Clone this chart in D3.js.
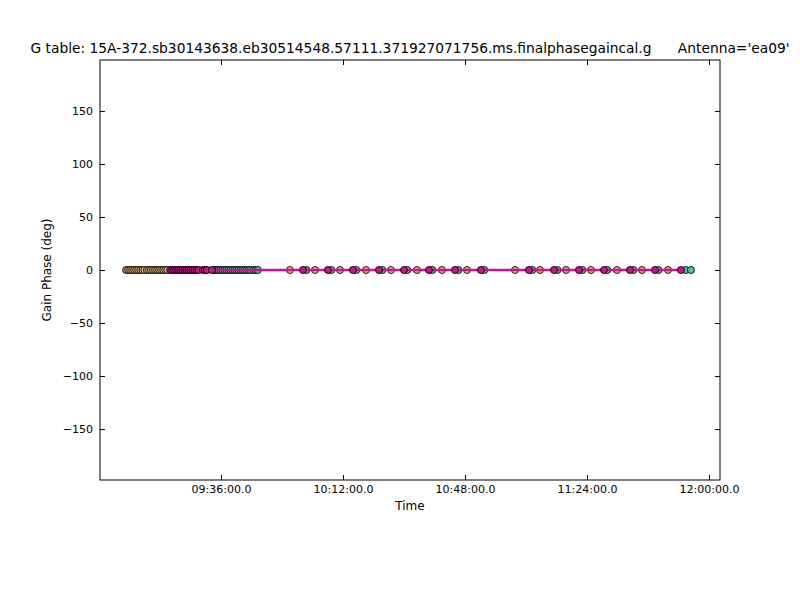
<!DOCTYPE html>
<html>
<head>
<meta charset="utf-8">
<script src="https://cdn.jsdelivr.net/npm/d3@7"></script>
<style>
  body { margin: 0; background: #fff; }
  text { font-family: "DejaVu Sans", sans-serif; }
</style>
</head>
<body>
<div id="chart"></div>
<script>
// Gain phase per time, antenna ea09 (all solutions sit at 0 deg)
var tanPoints = [
  ["09:08:00", 0], ["09:08:36", 0], ["09:09:12", 0], ["09:09:48", 0], ["09:10:24", 0],
  ["09:11:00", 0], ["09:11:36", 0], ["09:12:12", 0], ["09:12:48", 0], ["09:13:24", 0],
  ["09:14:10", 0], ["09:14:46", 0], ["09:15:22", 0], ["09:15:58", 0], ["09:16:34", 0],
  ["09:17:10", 0], ["09:17:46", 0], ["09:18:22", 0], ["09:18:58", 0], ["09:19:34", 0],
  ["09:20:10", 0],
  ["09:56:20", 0], ["10:03:44", 0], ["10:11:07", 0], ["10:18:47", 0], ["10:26:10", 0],
  ["10:33:50", 0], ["10:41:13", 0], ["10:48:35", 0], ["11:02:45", 0], ["11:10:08", 0],
  ["11:17:48", 0], ["11:25:11", 0], ["11:32:51", 0], ["11:40:14", 0], ["11:47:54", 0]
];

var magentaPoints = [
  ["09:21:00", 0], ["09:21:36", 0], ["09:22:12", 0], ["09:22:48", 0], ["09:23:24", 0],
  ["09:24:00", 0], ["09:24:36", 0], ["09:25:12", 0], ["09:25:48", 0], ["09:26:24", 0],
  ["09:27:00", 0], ["09:27:36", 0], ["09:28:12", 0], ["09:28:48", 0], ["09:29:24", 0],
  ["09:30:40", 0], ["09:31:16", 0], ["09:31:52", 0]
];

var tealPoints = [
  ["09:34:00", 0], ["09:34:36", 0], ["09:35:12", 0], ["09:35:48", 0], ["09:36:24", 0],
  ["09:37:00", 0], ["09:37:36", 0], ["09:38:12", 0], ["09:38:48", 0], ["09:39:24", 0],
  ["09:40:00", 0], ["09:40:36", 0], ["09:41:12", 0], ["09:41:48", 0], ["09:42:24", 0],
  ["09:43:00", 0], ["09:43:36", 0], ["09:44:12", 0], ["09:44:48", 0], ["09:45:40", 0],
  ["09:46:16", 0], ["09:46:52", 0],
  ["10:01:12", 0], ["10:08:34", 0], ["10:15:57", 0], ["10:23:37", 0], ["10:31:00", 0],
  ["10:38:22", 0], ["10:46:03", 0], ["10:53:43", 0], ["11:07:53", 0], ["11:15:16", 0],
  ["11:22:38", 0], ["11:30:01", 0], ["11:37:41", 0], ["11:45:04", 0], ["11:53:12", 0],
  ["11:54:40", 0]
];

// calibrator solutions joined by a line
var calPoints = [
  ["09:33:20", 0], ["10:00:12", 0], ["10:07:34", 0], ["10:14:57", 0], ["10:22:37", 0],
  ["10:30:00", 0], ["10:37:22", 0], ["10:45:03", 0], ["10:52:43", 0], ["11:06:53", 0],
  ["11:14:16", 0], ["11:21:38", 0], ["11:29:01", 0], ["11:36:41", 0], ["11:44:04", 0],
  ["11:51:44", 0]
];

var xTicks = ["09:36:00", "10:12:00", "10:48:00", "11:24:00", "12:00:00"];
var yTicks = [-150, -100, -50, 0, 50, 100, 150];

var title = "G table: 15A-372.sb30143638.eb30514548.57111.371927071756.ms.finalphasegaincal.g      Antenna='ea09'";

var parse = d3.utcParse("%H:%M:%S");

var w = 800, h = 600;
var pL = 100, pR = 720, pT = 60, pB = 480;

var svg = d3.select("#chart")
  .append("svg")
  .attr("width", w)
  .attr("height", h);

var x = d3.scaleUtc()
  .domain([parse("09:00:18"), parse("12:03:15")])
  .range([pL, pR]);

var y = d3.scaleLinear()
  .domain([-198, 198])
  .range([pB, pT]);

var fmt = d3.utcFormat("%H:%M:%S.0");
var xt = xTicks.map(parse);

// axes, ticks pointing inward on all four sides
svg.append("g")
  .attr("transform", "translate(0," + pB + ")")
  .call(d3.axisBottom(x).tickValues(xt).tickFormat(fmt).tickSizeInner(-5).tickSizeOuter(0).tickPadding(5))
  .call(g => g.select(".domain").remove());

svg.append("g")
  .attr("transform", "translate(0," + pT + ")")
  .call(d3.axisTop(x).tickValues(xt).tickFormat("").tickSizeInner(-5).tickSizeOuter(0))
  .call(g => g.select(".domain").remove());

svg.append("g")
  .attr("transform", "translate(" + pL + ",0)")
  .call(d3.axisLeft(y).tickValues(yTicks).tickFormat(d => d < 0 ? "\u2212" + Math.abs(d) : d).tickSizeInner(-5).tickSizeOuter(0).tickPadding(7))
  .call(g => g.select(".domain").remove());

svg.append("g")
  .attr("transform", "translate(" + pR + ",0)")
  .call(d3.axisRight(y).tickValues(yTicks).tickFormat("").tickSizeInner(-5).tickSizeOuter(0))
  .call(g => g.select(".domain").remove());

svg.selectAll(".tick text")
  .style("font-family", "DejaVu Sans")
  .style("font-size", "11px")
  .attr("fill", "#000");
svg.selectAll(".tick line").attr("stroke", "#000");

// points
function dots(data, color) {
  svg.append("g")
    .selectAll("circle")
    .data(data)
    .enter().append("circle")
    .attr("cx", d => x(parse(d[0])))
    .attr("cy", d => y(d[1]))
    .attr("r", 3.5)
    .attr("fill", color)
    .attr("stroke", "#000")
    .attr("stroke-width", 0.9);
}

dots(tanPoints, "#e6b67c");
dots(tealPoints, "#48c9a0");
dots(magentaPoints, "#cc1488");

var line = d3.line()
  .x(d => x(parse(d[0])))
  .y(d => y(d[1]));

svg.append("path")
  .datum(calPoints)
  .attr("d", line)
  .attr("fill", "none")
  .attr("stroke", "#cc1488")
  .attr("stroke-width", 2.6);

dots(calPoints, "#cc1488");

// frame
svg.append("rect")
  .attr("x", pL)
  .attr("y", pT)
  .attr("width", pR - pL)
  .attr("height", pB - pT)
  .attr("fill", "none")
  .attr("stroke", "#000")
  .attr("stroke-width", 1);

svg.append("text")
  .attr("x", (pL + pR) / 2)
  .attr("y", 53)
  .attr("text-anchor", "middle")
  .style("font-size", "13.8px")
  .style("white-space", "pre")
  .text(title);

svg.append("text")
  .attr("x", (pL + pR) / 2)
  .attr("y", 510)
  .attr("text-anchor", "middle")
  .style("font-size", "12px")
  .text("Time");

svg.append("text")
  .attr("transform", "translate(51," + (pT + pB) / 2 + ") rotate(-90)")
  .attr("text-anchor", "middle")
  .style("font-size", "12px")
  .text("Gain Phase (deg)");
</script>
</body>
</html>
